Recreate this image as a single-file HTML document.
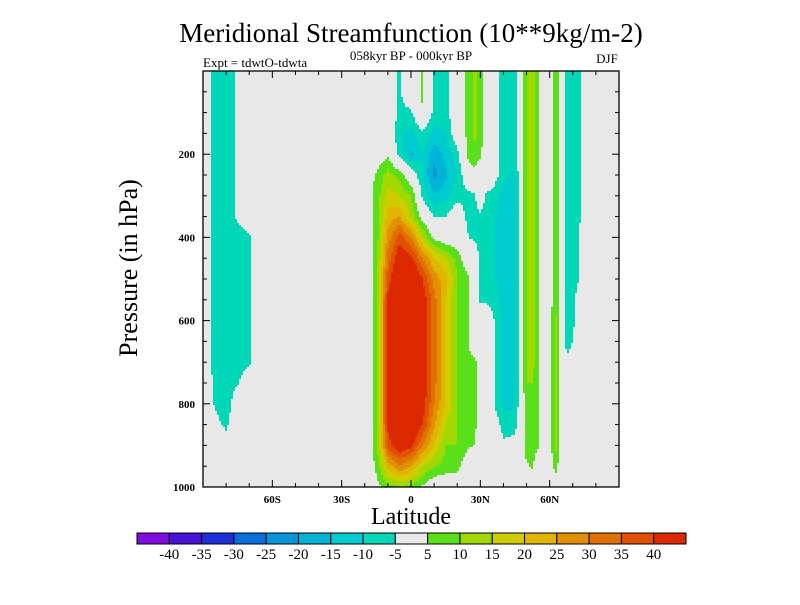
<!DOCTYPE html>
<html><head><meta charset="utf-8"><style>
html,body{margin:0;padding:0;background:#fff;}
svg text{font-family:"Liberation Serif",serif;fill:#000;}
</style></head><body>
<svg id="chart" width="800" height="600" xmlns="http://www.w3.org/2000/svg">
<text x="411" y="42" font-size="27" text-anchor="middle">Meridional Streamfunction (10**9kg/m-2)</text>
<text x="411" y="60" font-size="13" text-anchor="middle">058kyr BP - 000kyr BP</text>
<text x="203" y="67" font-size="13">Expt = tdwtO-tdwta</text>
<text x="607" y="63" font-size="13" text-anchor="middle">DJF</text>
<text transform="translate(137,268) rotate(-90)" font-size="26" text-anchor="middle">Pressure (in hPa)</text>
<text x="411" y="524" font-size="24" text-anchor="middle">Latitude</text>
<g id="field"></g>
<g id="axes"></g>
<g id="cbar"></g>
</svg>
<script>
const lats=[-90,-85,-80,-75,-70,-65,-20,-15,-10,-5,0,5,10,15,20,25,27.5,30,32.5,35,40,45,47.5,50,52.5,55,57.5,60,62.5,65,67.5,70,72.5,75,80,90];
const pressures=[0,50,100,150,200,250,300,350,400,450,500,550,600,650,700,750,800,850,900,950,1000];
const psiByLat=[
[0,0,0,0,0,0,0,0,0,0,0,0,0,0,0,0,0,0,0,0,0],
[-8,-8,-8,-8,-8,-8,-8,-8,-8,-8,-8,-8,-8,-8,-7,-6,-5.5,-3,0,0,0],
[-9,-9,-9,-9,-9,-9,-9,-9,-9,-9,-9,-9,-9,-9,-9,-9,-9,-6,-3,0,0],
[-4,-4,-4,-4,-4,-4,-4,-4,-8,-8,-8,-8,-8,-8,-8,-5.5,0,0,0,0,0],
[0,0,0,0,0,0,0,0,-6,-6,-6,-6,-6,-6,-6,0,0,0,0,0,0],
[0,0,0,0,0,0,0,0,0,0,0,0,0,0,0,0,0,0,0,0,0],
[0,0,0,0,0,0,0,0,0,0,0,0,0,0,0,0,0,0,0,0,0],
[0,0,0,0,0,6,7,7,7,7,7,7,7,7,7,7,7,7,7,6,3],
[0,0,0,0,4,12,17,22,27,32,37,42,42,42,42,42,42,42,37,22,8],
[-6,-6,-6,-9,-7,8,15,25,38,45,50,50,50,50,50,50,50,50,45,30,10],
[0,0,-6,-12,-16,0,10,14,30,42,50,50,50,50,50,50,50,50,42,25,8],
[6,6,5,-6,-10,-10,-6,2,15,30,40,44,44,44,44,44,44,40,30,15,4],
[-7,-7,-7,-12,-18,-22,-14,-5,3,20,28,32,32,32,32,32,30,26,20,10,0],
[-7,-7,-7,-10,-14,-16,-12,-5,0,15,22,20,20,20,20,20,20,15,10,8,0],
[0,0,0,0,-7,-10,-7,0,0,8,10,10,10,10,10,10,10,10,10,7,0],
[7,7,7,7,7,2,-7,-7,-5,0,5.5,5.5,5.5,5.5,5.5,5.5,5.5,5.5,5.5,0,0],
[11,11,11,11,9,3,-6,-7,-6,0,0,0,0,0,7,7,7,7,5,0,0],
[9,9,9,9,6,0,0,-6,-7,-7,-7,-6,0,0,0,0,0,0,0,0,0],
[0,0,0,0,0,0,-6,-8,-8,-8,-8,-6,0,0,0,0,0,0,0,0,0],
[0,0,0,0,0,0,-7,-9,-9,-9,-9,-7,-3,-3,-3,-3,-3,0,0,0,0],
[-8,-8,-8,-8,-8,-9,-12,-12,-12,-12,-12,-12,-12,-12,-12,-12,-12,-7,-4,0,0],
[-7,-7,-7,-7,-7,-11,-11,-11,-11,-11,-11,-11,-11,-11,-11,-11,-11,-7,-3,0,0],
[0,0,0,0,0,0,0,0,0,0,0,0,0,0,0,0,0,0,0,0,0],
[10,10,10,10,10,10,10,10,10,10,10,10,10,10,10,10,8,8,8,4,0],
[12,12,12,12,12,12,12,12,12,12,12,12,12,12,12,10,10,10,8,6,0],
[6,6,6,6,6,6,6,6,6,6,6,6,6,6,6,6,6,6,6,0,0],
[0,0,0,0,0,0,0,0,0,0,0,0,0,0,0,0,0,0,0,0,0],
[2,2,2,2,2,2,2,2,2,2,2,2,2,2,2,2,2,2,2,0,0],
[8,8,8,8,8,8,8,8,8,8,8,8,12,12,12,12,12,12,12,8,0],
[2,2,2,2,2,2,2,2,2,2,2,2,2,2,2,2,2,2,2,0,0],
[-8,-8,-8,-8,-8,-8,-8,-8,-8,-8,-8,-8,-8,-8,-4,0,0,0,0,0,0],
[-9,-9,-9,-9,-9,-9,-9,-9,-9,-9,-9,-9,-7,-5,0,0,0,0,0,0,0],
[-7,-7,-7,-7,-7,-7,-7,-7,-6,-6,-6,0,0,0,0,0,0,0,0,0,0],
[0,0,0,0,0,0,0,0,0,0,0,0,0,0,0,0,0,0,0,0,0],
[0,0,0,0,0,0,0,0,0,0,0,0,0,0,0,0,0,0,0,0,0],
[0,0,0,0,0,0,0,0,0,0,0,0,0,0,0,0,0,0,0,0,0]];
const levels=[-40,-35,-30,-25,-20,-15,-10,-5,5,10,15,20,25,30,35,40];
const levelLabels=["-40","-35","-30","-25","-20","-15","-10","-5","5","10","15","20","25","30","35","40"];
const colors=["#7f0fdf","#4a12d8","#1e30d8","#0a6edc","#0596d8","#00b4d8","#00ccd0","#00d8b8","#e8e8e8","#5ae01a","#a0d800","#d0cc00","#e0b400","#e09000","#e07000","#e05000","#dc2800"];
const yTickLabels=[200,400,600,800,1000];
const xTickLabels=[[-60,"60S"],[-30,"30S"],[0,"0"],[30,"30N"],[60,"60N"]];

const NS="http://www.w3.org/2000/svg";
const L=203,T=71,R=619,B=487;
const xs=lat=>L+(lat+90)/180*(R-L);
const ys=p=>T+p/1000*(B-T);
function mk(tag,attrs,parent){const e=document.createElementNS(NS,tag);for(const k in attrs)e.setAttribute(k,attrs[k]);parent.appendChild(e);return e;}
function levelIndex(v){let i=0;for(const b of levels){if(v>=b)i++;}return i;}
function sample(lat,p){
  let i=0;while(i<lats.length-2&&lat>lats[i+1])i++;
  const fx=Math.max(0,Math.min(1,(lat-lats[i])/(lats[i+1]-lats[i])));
  const pf=Math.max(0,Math.min(pressures.length-1.0001,(p-pressures[0])/(pressures[1]-pressures[0])));
  const j=Math.floor(pf),fy=pf-j;
  const a=psiByLat[i][j],b=psiByLat[i+1][j],c=psiByLat[i][j+1],d=psiByLat[i+1][j+1];
  return (a*(1-fx)+b*fx)*(1-fy)+(c*(1-fx)+d*fx)*fy;
}
const field=document.getElementById('field');
const bg=mk('rect',{x:L,y:T,width:R-L,height:B-T,fill:colors[8]},field);


const step=2;
for(let y=T;y<B;y+=step){
  const p=(y+step/2-T)/(B-T)*1000;
  let runStart=L,runC=-1;
  for(let x=L;x<=R;x+=step){
    let c=-2;
    if(x<R){const lat=(x+step/2-L)/(R-L)*180-90;c=levelIndex(sample(lat,p));}
    if(c!==runC){
      if(runC>=0&&runC!==8){
        const r=mk('rect',{x:runStart,y:y,width:Math.min(x,R)-runStart,height:step,fill:colors[runC]},field);
        
        
      }
      runStart=x;runC=c;
    }
  }
}
const axes=document.getElementById('axes');
mk('rect',{x:L,y:T,width:R-L,height:B-T,fill:'none',stroke:'#000','stroke-width':1.3},axes);
for(let p=50;p<1000;p+=50){
  const y=ys(p),len=(p%200===0)?7:4;
  mk('line',{x1:L,y1:y,x2:L+len,y2:y,stroke:'#000'},axes);
  mk('line',{x1:R,y1:y,x2:R-len,y2:y,stroke:'#000'},axes);
}
for(let lat=-80;lat<90;lat+=10){
  const x=xs(lat),len=(lat%30===0)?7:4;
  mk('line',{x1:x,y1:B,x2:x,y2:B-len,stroke:'#000'},axes);
  mk('line',{x1:x,y1:T,x2:x,y2:T+len,stroke:'#000'},axes);
}
for(const p of yTickLabels){
  const t=mk('text',{x:L-8,y:ys(p)+4,'font-size':11,'font-weight':'bold','text-anchor':'end'},axes);
  
  
  t.textContent=p;
}
for(const [lat,lab] of xTickLabels){
  const t=mk('text',{x:xs(lat),y:B+16,'font-size':11,'font-weight':'bold','text-anchor':'middle'},axes);
  
  
  t.textContent=lab;
}
const cb=document.getElementById('cbar');
const cbL=137,cbR=686,cbT=533,cbH=11,bw=(cbR-cbL)/colors.length;
colors.forEach((c,i)=>{
  const r=mk('rect',{x:cbL+i*bw,y:cbT,width:bw,height:cbH,fill:c,stroke:'#000','stroke-width':1},cb);
  
  
});
levelLabels.forEach((lab,i)=>{
  const t=mk('text',{x:cbL+(i+1)*bw,y:cbT+cbH+15,'font-size':15,'text-anchor':'middle'},cb);
  
  
  t.textContent=lab;
});
</script>
</body></html>
